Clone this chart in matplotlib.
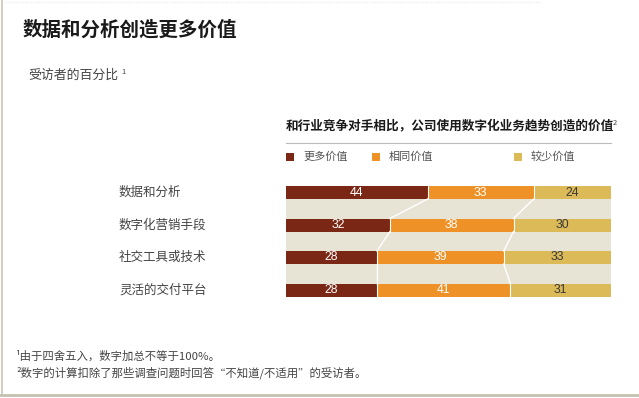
import matplotlib
matplotlib.use('Agg')
import matplotlib.pyplot as plt
from matplotlib.patches import Rectangle
from matplotlib.lines import Line2D

plt.rcParams['font.family'] = ['Noto Sans CJK SC', 'DejaVu Sans']

categories = ['数据和分析', '数字化营销手段', '社交工具或技术', '灵活的交付平台']
more = [44, 32, 28, 28]
same = [33, 38, 39, 41]
less = [24, 30, 33, 31]
series_names = ['更多价值', '相同价值', '较少价值']
colors = ['#7a2815', '#ee9126', '#dcba58']
text_colors = ['white', 'white', '#3a3a3a']

W, H = 639, 398
fig = plt.figure(figsize=(W / 100, H / 100), dpi=100)
fig.patch.set_facecolor('white')


def fx(px):
    return px / W


def fy(py):
    return 1 - py / H


# frame lines
fig.add_artist(Line2D([fx(1.5), fx(1.5)], [fy(0), fy(395)], color='#c9c6b6', lw=1.2))
fig.add_artist(Line2D([fx(0), fx(639)], [fy(395), fy(395)], color='#c4c1b1', lw=2))
fig.add_artist(Line2D([fx(5), fx(540)], [fy(2), fy(2)], color='#ececec', lw=1, ls=(0, (1, 1))))

# titles
fig.text(fx(23), fy(30), '数据和分析创造更多价值', fontsize=14, fontweight='bold',
         color='#1a1a1a', va='center', ha='left')
fig.text(fx(28), fy(75), '受访者的百分比', fontsize=9.3, color='#444444', va='center', ha='left')
fig.text(fx(121), fy(72), '1', fontsize=5.5, color='#444444', va='center', ha='left')

fig.text(fx(286), fy(126), '和行业竞争对手相比，公司使用数字化业务趋势创造的价值',
         fontsize=9.1, fontweight='bold', color='#1a1a1a', va='center', ha='left')
fig.text(fx(613), fy(123), '2', fontsize=5.5, color='#444444', va='center', ha='left')
fig.add_artist(Line2D([fx(286), fx(611)], [fy(142.5), fy(142.5)], color='#bbbbbb', lw=0.8))

# legend
legend_x = [286, 372, 514]
for x, name, c in zip(legend_x, series_names, colors):
    fig.add_artist(Rectangle((fx(x), fy(161)), fx(8), 8 / H, color=c, lw=0))
    fig.text(fx(x + 17), fy(156.5), name, fontsize=8, color='#555555', va='center', ha='left')

# bars, each row scaled to its own total
top_px, row_px, bar_px = 186, 32.5, 13
half = bar_px / row_px / 2
n = len(categories)
totals = [a + b + c for a, b, c in zip(more, same, less)]
ax_h = (n - 1 + 2 * half) * row_px
ax = fig.add_axes([fx(286), fy(top_px + ax_h), fx(611) - fx(286), ax_h / H])
ax.set_xlim(0, 100)
ax.set_ylim(n - 1 + half, -half)
ax.set_facecolor('#e7e4d6')
for s in ax.spines.values():
    s.set_visible(False)
ax.set_xticks([])
ax.set_yticks([])

y = list(range(n))
lefts = [0] * n
cum = []
for vals, c, tc in zip([more, same, less], colors, text_colors):
    widths = [v * 100 / t for v, t in zip(vals, totals)]
    ax.barh(y, widths, left=lefts, height=2 * half, color=c, edgecolor='none')
    for i, v in enumerate(vals):
        ax.text(lefts[i] + widths[i] / 2, y[i], str(v), ha='center', va='center',
                fontsize=8.8, color=tc, family=['Liberation Sans', 'DejaVu Sans'])
    lefts = [l + w for l, w in zip(lefts, widths)]
    cum.append(list(lefts))

# white connector lines between boundaries
for bound in cum[:2]:
    for i in range(n - 1):
        ax.plot([bound[i], bound[i + 1]], [i + half, i + 1 - half], color='white', lw=1)
# bar divider lines
for bound in cum[:2]:
    for i in range(n):
        ax.plot([bound[i], bound[i]], [i - half, i + half], color='white', lw=0.8)

for i, cat in enumerate(categories):
    fig.text(fx(119), fy(top_px + bar_px / 2 + i * row_px), cat, fontsize=9,
             color='#444444', va='center', ha='left')

# footnotes
fig.text(fx(16), fy(356), '¹由于四舍五入，数字加总不等于100%。', fontsize=8.2, color='#444444',
         va='center', ha='left')
fig.text(fx(16), fy(373), '²数字的计算扣除了那些调查问题时回答“不知道/不适用”的受访者。', fontsize=8.2,
         color='#444444', va='center', ha='left')

fig.savefig('out.png', dpi=100)
